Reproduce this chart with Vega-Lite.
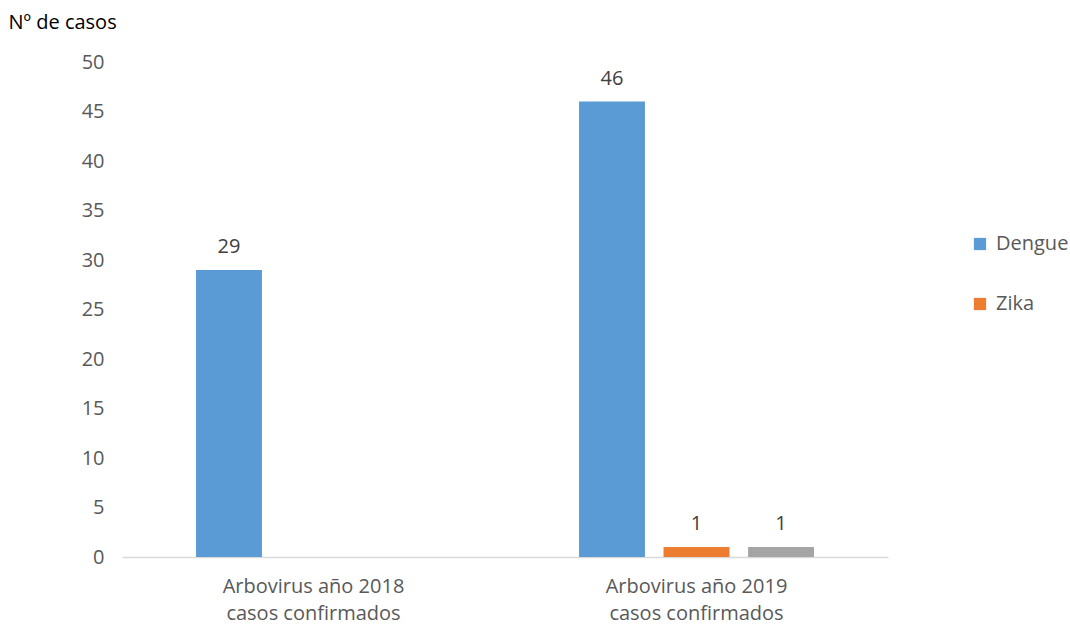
{
  "$schema": "https://vega.github.io/schema/vega-lite/v6.json",
  "autosize": {"type": "none"},
  "width": 766,
  "height": 495,
  "padding": {"left": 122, "top": 62, "right": 182, "bottom": 69},
  "background": "white",
  "config": {
    "view": {"stroke": null},
    "font": "Open Sans",
    "text": {"font": "Open Sans"}
  },
  "data": {
    "values": [
      {"grupo": "Arbovirus año 2018|casos confirmados", "serie": "Dengue", "casos": 29},
      {"grupo": "Arbovirus año 2019|casos confirmados", "serie": "Dengue", "casos": 46},
      {"grupo": "Arbovirus año 2019|casos confirmados", "serie": "Zika", "casos": 1},
      {"grupo": "Arbovirus año 2019|casos confirmados", "serie": "Chikungunya", "casos": 1}
    ]
  },
  "encoding": {
    "x": {
      "field": "grupo",
      "type": "nominal",
      "sort": null,
      "scale": {"paddingInner": 0.338, "paddingOuter": 0.169},
      "axis": {
        "title": null,
        "labelAngle": 0,
        "labelExpr": "split(datum.label, '|')",
        "labelFontSize": 20,
        "labelColor": "#595959",
        "labelLineHeight": 27,
        "labelPadding": 19,
        "labelLimit": 400,
        "ticks": false,
        "domainColor": "#D9D9D9",
        "domainWidth": 1.5,
        "grid": false
      }
    },
    "xOffset": {
      "field": "serie",
      "type": "nominal",
      "sort": ["Dengue", "Zika", "Chikungunya"],
      "scale": {"paddingInner": 0.22, "paddingOuter": 0.11}
    },
    "y": {
      "field": "casos",
      "type": "quantitative",
      "scale": {"domain": [0, 50]},
      "axis": {
        "values": [0, 5, 10, 15, 20, 25, 30, 35, 40, 45, 50],
        "title": "Nº de casos",
        "titleAngle": 0,
        "titleAlign": "left",
        "titleBaseline": "middle",
        "titleX": -114,
        "titleY": -40,
        "titleFontSize": 20,
        "titleFontWeight": "normal",
        "titleColor": "#000000",
        "labelFontSize": 20,
        "labelColor": "#595959",
        "labelPadding": 18,
        "domain": false,
        "ticks": false,
        "grid": false
      }
    }
  },
  "layer": [
    {
      "mark": {"type": "bar"},
      "encoding": {
        "color": {
          "field": "serie",
          "type": "nominal",
          "scale": {"domain": ["Dengue", "Zika", "Chikungunya"], "range": ["#5B9BD5", "#ED7D31", "#A5A5A5"]},
          "legend": {
            "values": ["Dengue", "Zika"],
            "title": null,
            "orient": "none",
            "legendX": 848,
            "legendY": 172,
            "symbolType": "square",
            "symbolSize": 150,
            "symbolStrokeWidth": 0,
            "labelFontSize": 20,
            "labelColor": "#595959",
            "labelOffset": 6,
            "rowPadding": 40
          }
        }
      }
    },
    {
      "mark": {"type": "text", "baseline": "bottom", "dy": -13, "fontSize": 20, "color": "#404040"},
      "encoding": {
        "text": {"field": "casos", "type": "quantitative"}
      }
    }
  ]
}
